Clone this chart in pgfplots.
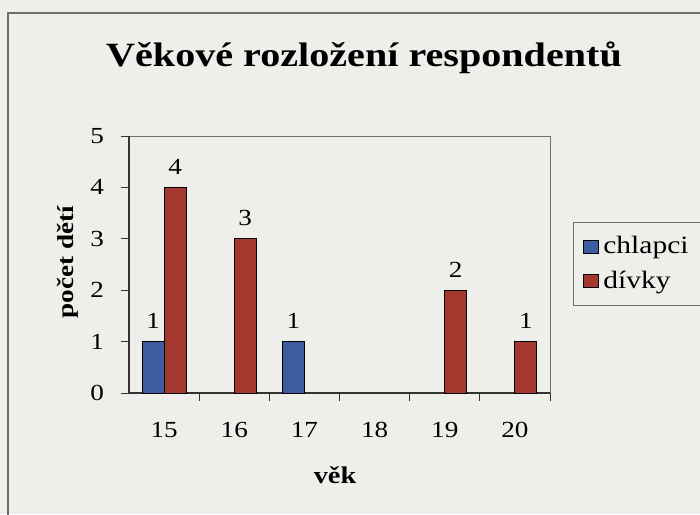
\documentclass[border=0pt]{standalone}
\usepackage{fontspec}
\setmainfont[FakeStretch=1.18]{Liberation Serif}
\usepackage{pgfplots}
\pgfplotsset{compat=1.18}
\definecolor{scanbg}{RGB}{238,238,235}
\definecolor{barblue}{RGB}{62,92,160}
\definecolor{barred}{RGB}{165,56,46}
\definecolor{framegray}{RGB}{110,110,110}

\begin{document}
\begin{tikzpicture}
% page: 700x514 px at 0.5pt per px
\fill[scanbg] (0,0) rectangle (350pt,257pt);
\path[use as bounding box] (0,0) rectangle (350pt,257pt);
\draw[framegray,line width=0.8pt] (4pt,-5pt) -- (4pt,250.5pt) -- (360pt,250.5pt);

\begin{axis}[
  at={(64.5pt,60.5pt)}, anchor=south west,
  scale only axis,
  width=210.5pt, height=128.5pt,
  ybar=0pt, bar width=11pt,
  xmin=-0.5, xmax=5.5,
  ymin=0, ymax=5,
  xtick={0,1,2,3,4,5},
  xticklabels={15,16,17,18,19,20},
  minor xtick={0.5,1.5,2.5,3.5,4.5,5.5},
  ytick={0,1,2,3,4,5},
  axis x line*=bottom, axis y line*=left,
  axis line style={draw=black!80, line width=0.6pt},
  axis background/.style={draw=framegray, line width=0.5pt},
  tick align=outside,
  major tick length=4pt, minor tick length=4pt,
  x tick style={draw=none},
  minor x tick style={draw=black!80, line width=0.5pt},
  y tick style={draw=black!80, line width=0.5pt},
  tick label style={font=\fontsize{11.5}{13}\selectfont},
  xticklabel style={yshift=-7pt},
  yticklabel style={xshift=-5pt},
  /pgf/number format/assume math mode=true,
  nodes near coords,
  every node near coord/.append style={font=\fontsize{11.5}{13}\selectfont, black, yshift=3pt},
  legend style={at={(1.0546,0.665)}, anchor=north west, draw=framegray, fill=none,
    font=\fontsize{12.5}{14}\selectfont, row sep=3pt, inner xsep=5pt, inner ysep=5pt,
    nodes={text width=56pt}},
  legend cell align=left,
  legend image code/.code={\draw[#1,draw=black,line width=0.5pt] (0pt,-3.2pt) rectangle (7.5pt,3.2pt);},
]
\addplot[fill=barblue, draw=black, line width=0.5pt] coordinates {(0,1) (2,1)};
\addlegendentry{chlapci}
\addplot[fill=barred, draw=black, line width=0.5pt] coordinates {(0,4) (1,3) (4,2) (5,1)};
\addlegendentry{dívky}
\end{axis}

\node[anchor=base, font=\fontsize{17}{19}\selectfont\bfseries] at (182pt,223.5pt) {Věkové rozložení respondentů};
\node[rotate=90, font=\fontsize{11.5}{13}\selectfont\bfseries] at (34pt,126pt) {počet dětí};
\node[anchor=base, font=\fontsize{12}{14}\selectfont\bfseries] at (167.5pt,15.5pt) {věk};
\end{tikzpicture}
\end{document}
